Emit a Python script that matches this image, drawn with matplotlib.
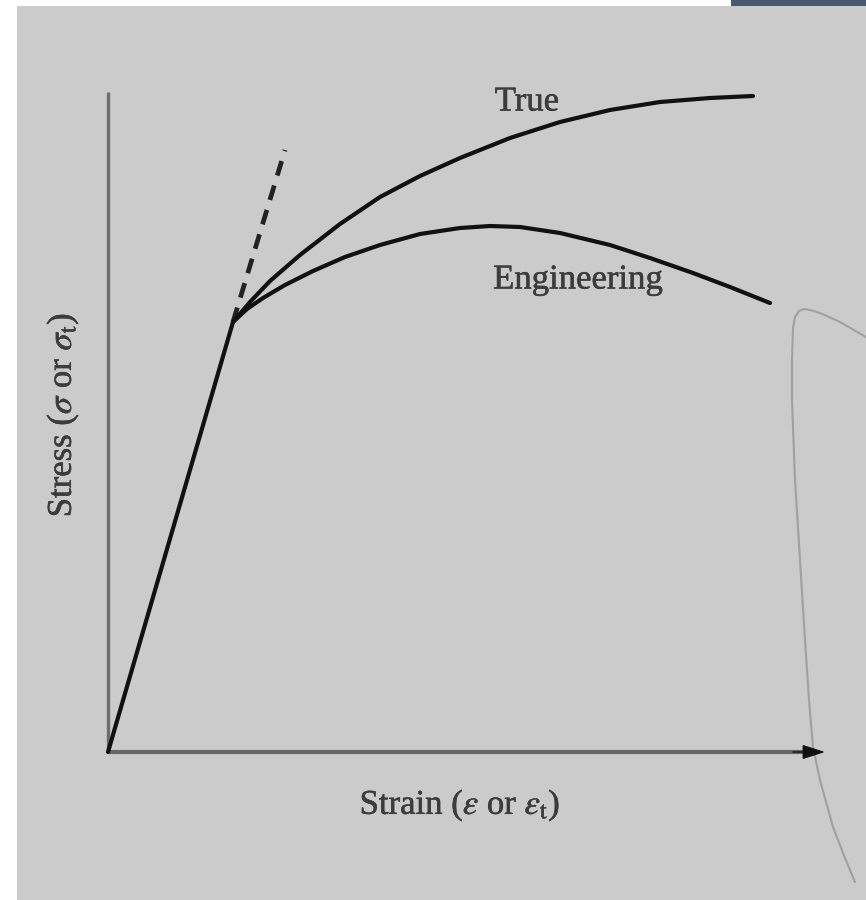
import matplotlib
matplotlib.use("Agg")
import matplotlib.pyplot as plt
from matplotlib.patches import Rectangle
import matplotlib.patheffects as pe

plt.rcParams['font.family'] = ['Liberation Serif', 'DejaVu Serif']
plt.rcParams['mathtext.fontset'] = 'stix'

# ---- data (strain, stress in arbitrary schematic units) ----
elastic_strain = [0.0, 1.25]
elastic_stress = [0.0, 4.30]

dashed_strain = [1.25, 1.77]
dashed_stress = [4.30, 6.02]

true_strain = [1.25, 1.42, 1.62, 1.92, 2.32, 2.72, 3.12, 3.52, 4.02, 4.52, 5.02, 5.52, 6.02, 6.45]
true_stress = [4.30, 4.50, 4.71, 4.97, 5.28, 5.55, 5.76, 5.94, 6.14, 6.30, 6.42, 6.50, 6.54, 6.56]

eng_strain = [1.25, 1.39, 1.55, 1.77, 2.05, 2.37, 2.72, 3.12, 3.52, 3.82, 4.12, 4.52, 5.02, 5.42, 5.85, 6.22, 6.62]
eng_stress = [4.30, 4.43, 4.54, 4.67, 4.81, 4.95, 5.07, 5.18, 5.24, 5.26, 5.25, 5.19, 5.07, 4.94, 4.79, 4.65, 4.49]

# faint scan artefact at the right edge
art_x = [7.58, 7.32, 7.12, 7.02, 6.96, 6.91, 6.87, 6.85, 6.84, 6.84, 6.87, 6.92, 6.97, 7.01, 7.05, 7.12, 7.25, 7.37, 7.47]
art_y = [4.15, 4.30, 4.39, 4.42, 4.43, 4.41, 4.35, 4.24, 3.92, 3.52, 2.72, 1.92, 1.12, 0.52, 0.05, -0.28, -0.75, -1.06, -1.30]

label_true = "True"
label_eng = "Engineering"
xlabel = r"Strain ($\varepsilon$ or $\varepsilon_{\rm t}$)"
ylabel = r"Stress ($\sigma$ or $\sigma_{\rm t}$)"

# ---- figure ----
fig = plt.figure(figsize=(8.66, 9.0), dpi=100, facecolor='white')
fig.patches.append(Rectangle((17/866, 0), 1 - 17/866, 894/900, transform=fig.transFigure,
                             facecolor='#cbcbcb', edgecolor='none', zorder=-10))
fig.patches.append(Rectangle((731/866, 894/900), 1 - 731/866, 6/900, transform=fig.transFigure,
                             facecolor='#4a586e', edgecolor='none', zorder=-10))

ax = fig.add_axes([0, 0, 1, 1])
ax.set_xlim(-1.08, 7.58)
ax.set_ylim(-1.48, 7.52)
ax.axis('off')
ax.patch.set_alpha(0)

# artefact
ax.plot(art_x, art_y, color='#a0a0a0', lw=1.5, solid_capstyle='round',
        solid_joinstyle='round', zorder=1)

# axes lines
ax.plot([0, 0], [0, 6.60], color='#6e6e6e', lw=2.4, solid_capstyle='butt', zorder=2)
ax.plot([0, 6.95], [0, 0], color='#666666', lw=3.0, solid_capstyle='butt', zorder=2)
ax.annotate('', xy=(7.17, 0), xytext=(6.85, 0),
            arrowprops=dict(arrowstyle='-|>,head_length=1.4,head_width=0.45',
                            color='#111111', lw=1.0, shrinkA=0, shrinkB=0), zorder=3)

# curves
ax.plot(elastic_strain, elastic_stress, color='#111111', lw=3.0, solid_capstyle='round', zorder=4)
ax.plot(dashed_strain, dashed_stress, color='#222222', lw=3.4, linestyle=(0, (3.2, 2.2)), zorder=4)
ax.plot(true_strain, true_stress, color='#111111', lw=3.0, solid_joinstyle='round',
        solid_capstyle='round', zorder=4)
ax.plot(eng_strain, eng_stress, color='#111111', lw=3.0, solid_joinstyle='round',
        solid_capstyle='round', zorder=4)

# labels
tc = '#3c3c3c'
fx = [pe.withStroke(linewidth=0.4, foreground=tc)]
ax.text(4.19, 6.50, label_true, fontsize=25, color=tc, ha='center', va='center', path_effects=fx)
ax.text(4.70, 4.72, label_eng, fontsize=25, color=tc, ha='center', va='center', path_effects=fx)
ax.text(3.52, -0.53, xlabel, fontsize=25, color=tc, ha='center', va='center', path_effects=fx)
ax.text(-0.46, 3.37, ylabel, fontsize=25, color=tc, ha='center', va='center', rotation=90,
        path_effects=fx)

fig.savefig('out.png', dpi=100, facecolor='white')
